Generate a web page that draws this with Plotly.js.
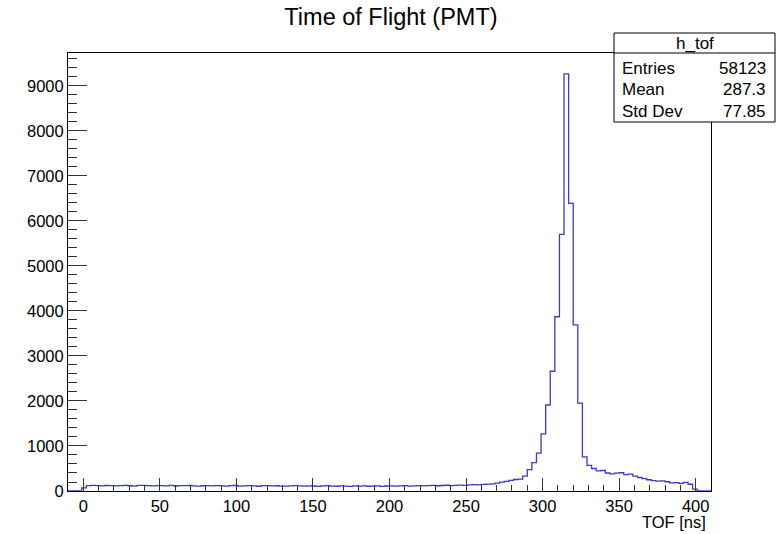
<!DOCTYPE html>
<html>
<head>
<meta charset="utf-8">
<script src="https://cdn.plot.ly/plotly-3.0.1.min.js"></script>
<style>
  html, body { margin: 0; padding: 0; background: #ffffff; }
  #chart { width: 784px; height: 534px; }
</style>
</head>
<body>
<div id="chart"></div>
<script>
// ---- data ----
const histName = "h_tof";
const chartTitle = "Time of Flight (PMT)";
const xTitle = "TOF [ns]";
const binLow = -10;      // lower edge of first bin (ns)
const binWidth = 3;      // bin width (ns)

const countsLead = [0, 0, 0, 70];
const countsBaseline = [
  118,124,120,116,122,119,112,121,125,117,110,123,127,118,114,121,
  119,116,124,111,120,118,122,115,108,117,121,113,119,116,110,118,
  122,109,115,120,114,106,118,121,112,117,110,108,116,120,113,107,
  115,111,104,112,118,109,106,114,110,103,112,108,115,106,110,113,
  104,111,116,108,112,119,110,115,121,113,118,124,117,122,128,120,
  126,132,127,135,140,138,146,152
];
const countsPeak = [
  160,175,195,215,235,255,265,330,475,630,840,1270,1910,2660,3870,5700,
  9265,6390,3690,1950,760,570,500,445
];
const countsTail = [
  455,400,380,395,405,365,375,330,300,275,250,230,220,225,205,180,
  185,170,190,150,40,0,0,0
];
const counts = countsLead.concat(countsBaseline, countsPeak, countsTail);

const statLabels = ["Entries", "Mean", "Std Dev"];
const statValues = ["58123", "287.3", "77.85"];

// ---- build step outline ----
const edges = [];
for (let i = 0; i <= counts.length; i++) edges.push(binLow + i * binWidth);
const yStep = counts.concat([counts[counts.length - 1]]);

const xMax = binLow + counts.length * binWidth;
const yMax = Math.max(...counts) * 1.05;

const trace = {
  type: "scatter",
  mode: "lines",
  x: edges,
  y: yStep,
  line: { shape: "hv", color: "#3b3bc6", width: 1.3 },
  hoverinfo: "skip",
  showlegend: false
};

const FONT = "Liberation Sans, Arial, Helvetica, sans-serif";

// plot frame in pixels: left 68, right 712, top 53, bottom 491
const L = 68, R = 711, T = 53, B = 491;
const W = R - L, H = B - T;
const px = v => (v - L) / W;
const py = v => (B - v) / H;

const boxL = 614, boxR = 775, boxT = 33, boxB = 122, boxHead = 53;

const shapes = [
  { type: "rect", xref: "paper", yref: "paper",
    x0: px(boxL), x1: px(boxR), y0: py(boxB), y1: py(boxT),
    line: { color: "#000", width: 1 }, fillcolor: "#ffffff", layer: "above" },
  { type: "line", xref: "paper", yref: "paper",
    x0: px(boxL), x1: px(boxR), y0: py(boxHead), y1: py(boxHead),
    line: { color: "#000", width: 1 }, layer: "above" }
];

const annotations = [
  { text: histName, xref: "paper", yref: "paper",
    x: px((boxL + boxR) / 2), y: py(44), 
    xanchor: "center", yanchor: "middle", showarrow: false,
    font: { family: FONT, size: 17, color: "#000" } },
  { text: xTitle, xref: "paper", yref: "paper",
    x: px(708), y: py(522), xanchor: "right", yanchor: "middle",
    showarrow: false, font: { family: FONT, size: 16.5, color: "#000" } }
];
const rowY = [68, 90, 111];
statLabels.forEach((lab, i) => {
  annotations.push({ text: lab, xref: "paper", yref: "paper",
    x: px(620), y: py(rowY[i]), xanchor: "left", yanchor: "middle",
    showarrow: false, font: { family: FONT, size: 17, color: "#000" } });
  annotations.push({ text: statValues[i], xref: "paper", yref: "paper",
    x: px(768), y: py(rowY[i]), xanchor: "right", yanchor: "middle",
    showarrow: false, font: { family: FONT, size: 17, color: "#000" } });
});

const layout = {
  width: 784, height: 534,
  margin: { l: L, r: 784 - R, t: T, b: 534 - B, pad: 0 },
  paper_bgcolor: "#ffffff",
  plot_bgcolor: "#ffffff",
  title: {
    text: chartTitle, xref: "paper", x: px(391), xanchor: "center",
    yref: "container", y: 1 - 17 / 534, yanchor: "middle",
    font: { family: FONT, size: 23.5, color: "#000" }
  },
  xaxis: {
    range: [binLow, xMax], showgrid: false, zeroline: false,
    showline: true, mirror: true, linecolor: "#000", linewidth: 1,
    ticks: "inside", ticklen: 13, tickwidth: 1, tickcolor: "#333",
    tick0: 0, dtick: 50,
    minor: { ticks: "inside", dtick: 10, tick0: 0, ticklen: 6, tickcolor: "#333", tickwidth: 1, showgrid: false },
    tickfont: { family: FONT, size: 16.5, color: "#000" },
    fixedrange: true
  },
  yaxis: {
    range: [0, yMax], showgrid: false, zeroline: false,
    showline: true, mirror: true, linecolor: "#000", linewidth: 1,
    ticks: "inside", ticklen: 19, tickwidth: 1, tickcolor: "#333",
    tick0: 0, dtick: 1000,
    minor: { ticks: "inside", dtick: 200, tick0: 0, ticklen: 9, tickcolor: "#333", tickwidth: 1, showgrid: false },
    tickfont: { family: FONT, size: 16.5, color: "#000" },
    fixedrange: true
  },
  shapes: shapes,
  annotations: annotations,
  showlegend: false
};

Plotly.newPlot("chart", [trace], layout, { displayModeBar: false, staticPlot: true });
</script>
</body>
</html>
